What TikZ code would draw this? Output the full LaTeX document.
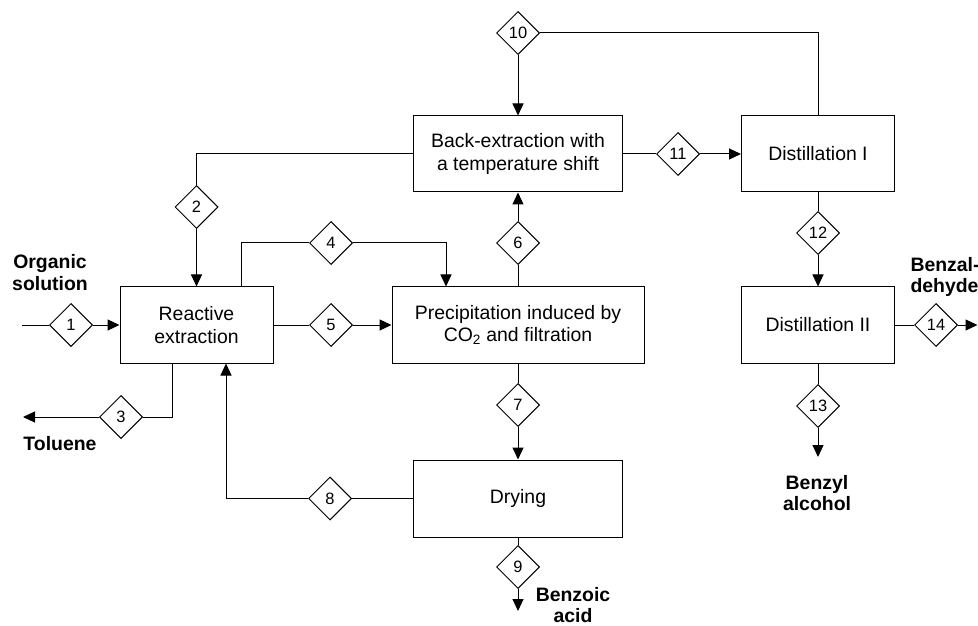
\documentclass[tikz,border=0pt]{standalone}
\usepackage{fontspec}
\setmainfont{Liberation Sans}
\usetikzlibrary{shapes.geometric,arrows.meta}
\begin{document}
\begin{tikzpicture}[x=1bp,y=-1bp,
  box/.style={draw,line width=1bp,inner sep=0pt,align=center,
    font=\fontsize{19.5}{22.5}\selectfont,minimum height=76bp},
  num/.style={draw,diamond,aspect=1,minimum width=43bp,minimum height=43bp,
    inner sep=0pt,line width=1bp,fill=white,font=\fontsize{16.5}{16.5}\selectfont},
  lbl/.style={font=\fontsize{19.5}{21.5}\selectfont\bfseries,align=center},
  flow/.style={line width=1bp},
  arr/.style={flow,-{Triangle[length=12bp,width=11bp]}}]
\useasboundingbox (0,0) rectangle (978,626);

% boxes
\node[box,minimum width=153bp] (RE) at (196.5,325) {Reactive\\extraction};
\node[box,minimum width=252bp] (PR) at (518,325) {Precipitation induced by\\CO\textsubscript{2} and filtration};
\node[box,minimum width=209bp] (BE) at (518,154) {Back-extraction with\\a temperature shift};
\node[box,minimum width=153bp] (D1) at (818,154) {Distillation I};
\node[box,minimum width=153bp] (D2) at (818,325) {Distillation II};
\node[box,minimum width=209bp,minimum height=77bp] (DR) at (518,498.5) {Drying};

% diamonds
\node[num] (d1) at (71,325) {1};
\node[num] (d2) at (196.5,207) {2};
\node[num] (d3) at (121,417) {3};
\node[num] (d4) at (331,243) {4};
\node[num] (d5) at (331,325) {5};
\node[num] (d6) at (518,243) {6};
\node[num] (d7) at (518,405) {7};
\node[num] (d8) at (330,498.5) {8};
\node[num] (d9) at (518,567) {9};
\node[num] (d10) at (518,33) {10};
\node[num] (d11) at (678,154) {11};
\node[num] (d12) at (818,233) {12};
\node[num] (d13) at (818,406) {13};
\node[num] (d14) at (936,325) {14};

% labels
\node[lbl] (lorg) at (50,272.5) {Organic\\solution};
\node[lbl] (ltol) at (60,444) {Toluene};
\node[lbl] (lbza) at (573,605) {Benzoic\\acid};
\node[lbl] (lbzo) at (817,493) {Benzyl\\alcohol};
\node[lbl,anchor=west,align=left] (lbzd) at (907,277) {Benzal-\\dehyde};

% coordinates
\coordinate (s1) at (22,325);
\coordinate (c2) at (196.5,154);
\coordinate (c3) at (172,417);
\coordinate (t3) at (23,417);
\coordinate (c4a) at (241,243);
\coordinate (c4b) at (446,243);
\coordinate (c8) at (226,498.5);
\coordinate (t9) at (518,611);
\coordinate (c10) at (818,33);
\coordinate (t13) at (818,457);
\coordinate (t14) at (977.5,325);

% connectors
\draw[flow] (s1) -- (d1.west);
\draw[arr] (d1) -- (RE);
\draw[flow] (BE.west) -- (c2) -- (d2);
\draw[arr] (d2) -- (RE);
\draw[flow] (c3 |- RE.south) -- (c3) -- (d3.east);
\draw[arr] (d3.west) -- (t3);
\draw[flow] (c4a |- RE.north) -- (c4a) -- (d4.west);
\draw[arr] (d4.east) -- (c4b) -- (c4b |- PR.north);
\draw[flow] (RE) -- (d5);
\draw[arr] (d5) -- (PR);
\draw[flow] (PR) -- (d6);
\draw[arr] (d6) -- (BE);
\draw[flow] (PR) -- (d7);
\draw[arr] (d7) -- (DR);
\draw[flow] (DR) -- (d8);
\draw[arr] (d8.west) -- (c8) -- (c8 |- RE.south);
\draw[flow] (DR) -- (d9);
\draw[arr] (d9.south) -- (t9);
\draw[arr] (d10) -- (BE);
\draw[flow] (d10.east) -- (c10) -- (D1.north);
\draw[flow] (BE) -- (d11);
\draw[arr] (d11) -- (D1);
\draw[flow] (D1) -- (d12);
\draw[arr] (d12) -- (D2);
\draw[flow] (D2) -- (d14);
\draw[arr] (d14.east) -- (t14);
\draw[flow] (D2) -- (d13);
\draw[arr] (d13.south) -- (t13);
\end{tikzpicture}
\end{document}
